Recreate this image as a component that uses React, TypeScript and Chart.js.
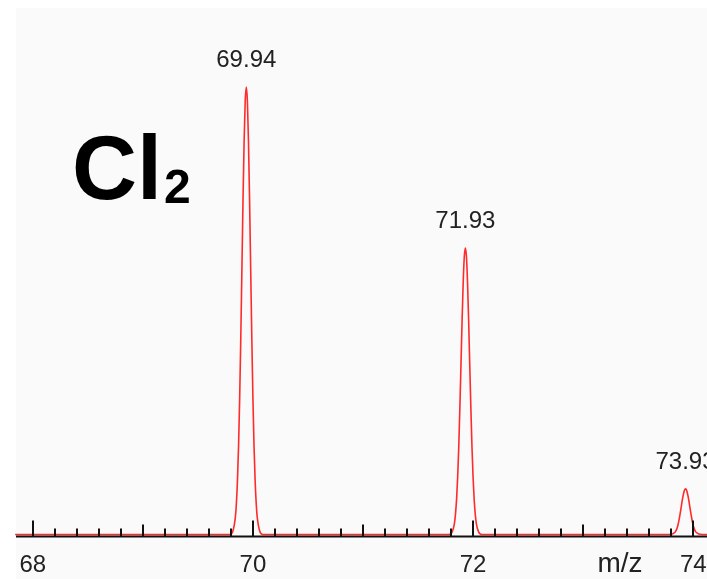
import React, { useEffect, useRef } from "react";
import { Chart, registerables } from "chart.js";

Chart.register(...registerables);

// m/z positions and relative intensities of the trace
const traceStartMz = [67.84, 69.79];
const traceStartInt = [0, 0];

const peak1Mz = [69.82, 69.84, 69.85, 69.86, 69.87, 69.88, 69.89, 69.9, 69.91, 69.92, 69.93, 69.94, 69.95, 69.96, 69.97, 69.98, 69.99, 70.0, 70.01, 70.02, 70.03, 70.04, 70.06, 70.09];
const peak1Int = [0.9, 3.7, 7.0, 12.2, 20.0, 30.6, 44.0, 59.1, 74.4, 87.7, 96.8, 100, 96.8, 87.7, 74.4, 59.1, 44.0, 30.6, 20.0, 12.2, 7.0, 3.7, 0.9, 0];

const peak2Mz = [71.78, 71.81, 71.83, 71.84, 71.85, 71.86, 71.87, 71.88, 71.89, 71.9, 71.91, 71.92, 71.93, 71.94, 71.95, 71.96, 71.97, 71.98, 71.99, 72.0, 72.01, 72.02, 72.03, 72.05, 72.08];
const peak2Int = [0, 0.6, 2.4, 4.5, 7.8, 12.8, 19.6, 28.2, 37.8, 47.6, 56.1, 62.0, 64, 62.0, 56.1, 47.6, 37.8, 28.2, 19.6, 12.8, 7.8, 4.5, 2.4, 0.6, 0];

const peak3Mz = [73.78, 73.81, 73.83, 73.84, 73.85, 73.86, 73.87, 73.88, 73.89, 73.9, 73.91, 73.92, 73.93, 73.94, 73.95, 73.96, 73.97, 73.98, 73.99, 74.0, 74.01, 74.02, 74.03, 74.05, 74.08, 74.13];
const peak3Int = [0, 0.1, 0.4, 0.7, 1.2, 2.0, 3.1, 4.5, 6.0, 7.6, 8.9, 9.9, 10.2, 9.9, 8.9, 7.6, 6.0, 4.5, 3.1, 2.0, 1.2, 0.7, 0.4, 0.1, 0, 0];

// peak annotations
const peakCenters = [69.94, 71.93, 73.93];
const peakHeights = [100, 64, 10.2];
const peakLabels = ["69.94", "71.93", "73.93"];

// axis
const majorTickLabels = [68, 70, 72, 74];
const axisTitle = "m/z";
const compoundMain = "Cl";
const compoundSub = "2";

const FONT = "'Liberation Sans', Arial, Helvetica, sans-serif";

function buildPoints() {
  const xs = [...traceStartMz, ...peak1Mz, ...peak2Mz, ...peak3Mz];
  const ys = [...traceStartInt, ...peak1Int, ...peak2Int, ...peak3Int];
  return xs.map((x, i) => ({ x, y: ys[i] }));
}

const decorPlugin = {
  id: "decor",
  beforeDraw(chart: any) {
    const ctx = chart.ctx;
    ctx.save();
    ctx.fillStyle = "#ffffff";
    ctx.fillRect(0, 0, chart.width, chart.height);
    ctx.fillStyle = "#fafafa";
    ctx.fillRect(16, 8, chart.width - 16, chart.height - 8);
    ctx.restore();
  },
  afterDatasetsDraw(chart: any) {
    const ctx = chart.ctx;
    const xs = chart.scales.x;
    const ys = chart.scales.y;
    const area = chart.chartArea;
    const axisY = area.bottom + 2;
    ctx.save();
    // axis line
    ctx.fillStyle = "#111";
    ctx.fillRect(area.left, axisY - 1, area.right - area.left, 2);
    // ticks every 0.2
    for (let i = 0; i <= 30; i++) {
      const v = 68 + i * 0.2;
      const px = Math.round(xs.getPixelForValue(v));
      let len = 8;
      if (i % 10 === 0) len = 16;
      else if (i % 5 === 0) len = 12;
      ctx.fillRect(px - 1, axisY - len, 2, len);
    }
    // tick labels
    ctx.fillStyle = "#222";
    ctx.font = `24px ${FONT}`;
    ctx.textAlign = "center";
    ctx.textBaseline = "alphabetic";
    majorTickLabels.forEach((v) => {
      ctx.fillText(String(v), xs.getPixelForValue(v), 572);
    });
    // axis title
    ctx.font = `28px ${FONT}`;
    ctx.fillText(axisTitle, 620, 572);
    // peak labels
    ctx.font = `24px ${FONT}`;
    peakCenters.forEach((c, i) => {
      const px = xs.getPixelForValue(c);
      const py = ys.getPixelForValue(peakHeights[i]);
      ctx.fillText(peakLabels[i], px, py - 20);
    });
    // compound
    ctx.fillStyle = "#000";
    ctx.textAlign = "left";
    ctx.font = `bold 90px ${FONT}`;
    ctx.fillText(compoundMain, 72, 199);
    const w = ctx.measureText(compoundMain).width;
    ctx.font = `bold 48px ${FONT}`;
    ctx.fillText(compoundSub, 72 + w + 2, 203);
    ctx.restore();
  },
};

export default function App() {
  const ref = useRef<HTMLCanvasElement | null>(null);
  useEffect(() => {
    if (!ref.current) return;
    const chart = new Chart(ref.current, {
      type: "line",
      data: {
        datasets: [
          {
            data: buildPoints(),
            borderColor: "#ff2a2a",
            borderWidth: 1.6,
            pointRadius: 0,
            cubicInterpolationMode: "monotone",
            fill: false,
            clip: false as any,
          },
        ],
      },
      options: {
        animation: false,
        responsive: false,
        parsing: true,
        layout: { padding: { left: 16, right: 0, top: 8, bottom: 44.5 } },
        plugins: { legend: { display: false }, tooltip: { enabled: false } },
        scales: {
          x: { type: "linear", min: 67.848, max: 74.125, display: false },
          y: { min: 0, max: 117.65, display: false },
        },
      },
      plugins: [decorPlugin],
    });
    return () => chart.destroy();
  }, []);
  return (
    <div style={{ position: "absolute", left: 0, top: 0, width: 707, height: 579 }}>
      <canvas ref={ref} width={707} height={579} />
    </div>
  );
}
